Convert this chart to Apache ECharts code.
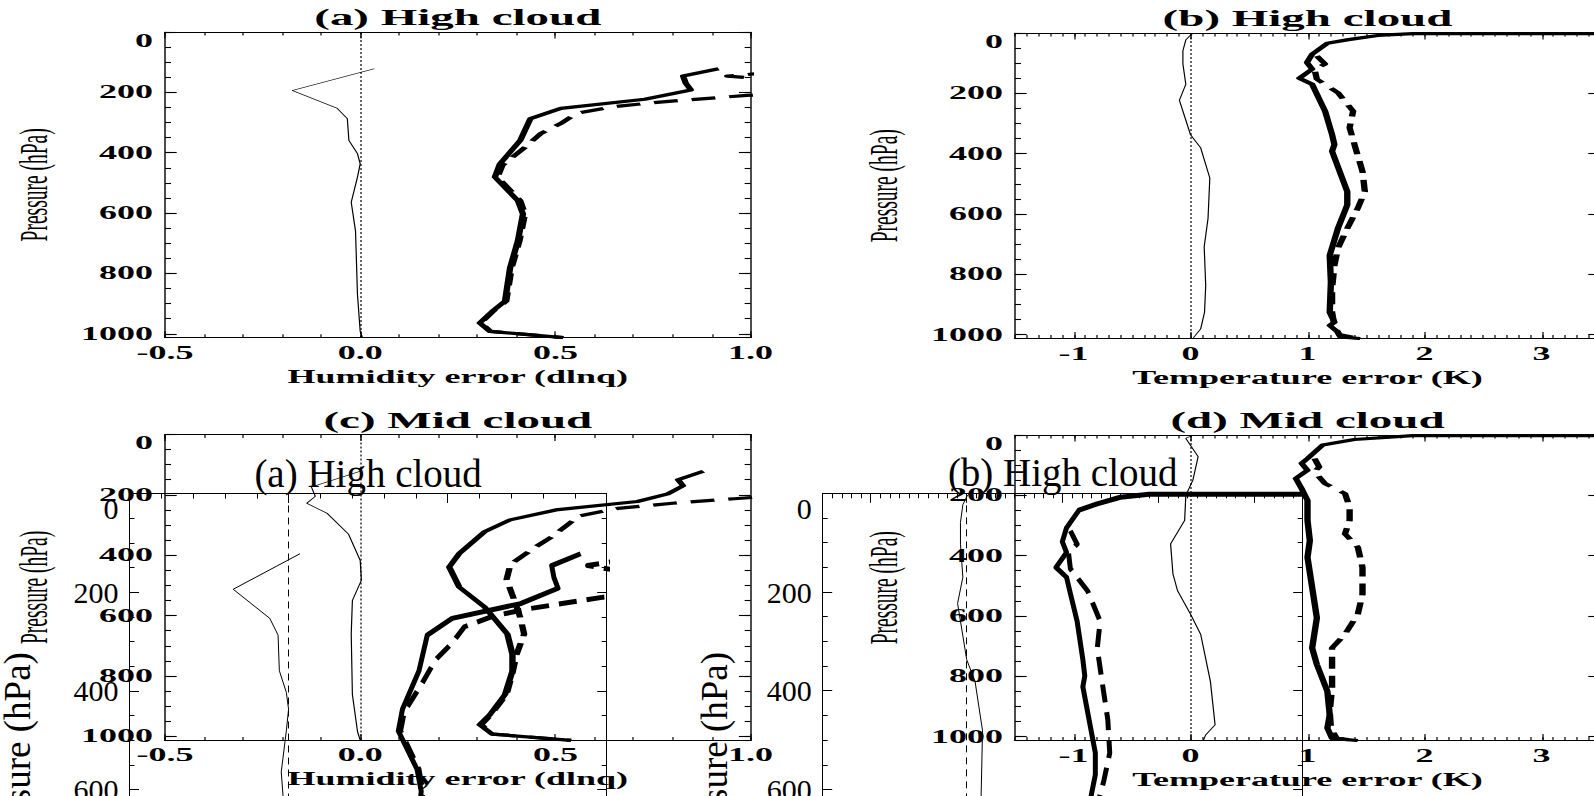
<!DOCTYPE html>
<html><head><meta charset="utf-8">
<script src="https://cdn.jsdelivr.net/npm/echarts@6/dist/echarts.min.js"></script>
<style>
html,body{margin:0;padding:0;background:#fff;overflow:hidden;width:1594px;height:796px}
#stretch{position:absolute;left:0;top:0;width:797px;height:796px;transform:scaleX(2);transform-origin:0 0}
#overlay{position:absolute;left:0;top:0;width:1594px;height:796px}
</style></head><body>
<div id="stretch"></div><div id="overlay"></div>
<script>
// ---------------- data ----------------
const pressureTicks = [0, 200, 400, 600, 800, 1000];
const humidityTicks = [-0.5, 0.0, 0.5, 1.0];
const temperatureTicks = [-1, 0, 1, 2, 3];
const panelTitles = ['(a) High cloud', '(b) High cloud', '(c) Mid cloud', '(d) Mid cloud'];
const humidityName = 'Humidity error (dlnq)';
const temperatureName = 'Temperature error (K)';
const pressureName = 'Pressure (hPa)';

// pairs: [error, pressure hPa]
const highHumBias = [[0.036,122],[-0.174,194],[-0.059,253],[-0.033,287],[-0.029,359],[-0.007,403],[0.0,437],[-0.007,481],[-0.023,564],[-0.012,659],[-0.007,870],[0.0,992],[0.006,1013]];
const highHumRms = [[0.918,122],[0.827,146],[0.834,170],[0.847,192],[0.729,223],[0.514,253],[0.436,287],[0.41,359],[0.358,437],[0.345,481],[0.404,559],[0.417,603],[0.404,692],[0.384,781],[0.371,892],[0.338,926],[0.306,964],[0.332,992],[0.52,1013]];
const highHumDash = [[1.15,125],[0.94,146],[1.15,168],[1.25,195],[0.99,210],[0.76,233],[0.645,248],[0.553,270],[0.514,303],[0.462,337],[0.423,381],[0.364,442],[0.352,481],[0.41,559],[0.422,603],[0.408,692],[0.388,781],[0.374,892],[0.34,926],[0.309,964],[0.334,992],[0.52,1013]];

const highTempBias = [[0.02,2],[0.0,7],[-0.04,23],[-0.065,59],[-0.065,103],[-0.04,170],[-0.095,223],[-0.065,259],[0.0,337],[0.087,381],[0.165,481],[0.15,614],[0.117,709],[0.13,837],[0.12,926],[0.087,981],[0.02,1013]];
const highTempRms = [[6.0,2],[1.9,2],[1.6,8],[1.35,22],[1.17,34],[1.04,70],[0.996,98],[1.04,120],[0.93,150],[1.04,170],[1.08,203],[1.15,259],[1.21,337],[1.23,370],[1.21,392],[1.34,526],[1.34,570],[1.26,648],[1.19,737],[1.2,826],[1.19,926],[1.23,959],[1.19,970],[1.26,992],[1.28,1008],[1.45,1013]];
const highTempDash = [[1.08,76],[1.15,103],[1.06,120],[1.08,153],[1.26,198],[1.39,259],[1.36,314],[1.41,381],[1.47,459],[1.49,526],[1.43,581],[1.34,648],[1.26,714],[1.23,770],[1.21,848],[1.21,926],[1.23,970],[1.27,1000],[1.45,1013]];

const midHumBias = [[0.0,122],[-0.125,174],[-0.115,205],[-0.137,228],[-0.085,261],[-0.03,330],[0.0,417],[0.003,483],[-0.02,550],[-0.023,661],[-0.02,861],[-0.007,983],[0.0,1013]];
const midHumRms = [[0.879,122],[0.814,150],[0.827,170],[0.788,197],[0.71,222],[0.501,250],[0.384,283],[0.319,322],[0.254,394],[0.228,439],[0.254,506],[0.319,572],[0.377,661],[0.39,728],[0.39,783],[0.371,861],[0.332,928],[0.306,961],[0.338,992],[0.54,1013]];
const midHumDash = [[1.1,200],[0.958,213],[0.8,228],[0.66,245],[0.56,270],[0.53,300],[0.49,340],[0.45,372],[0.385,430],[0.375,480],[0.395,550],[0.41,606],[0.42,661],[0.40,730],[0.39,790],[0.375,861],[0.335,928],[0.31,961],[0.34,992],[0.54,1013]];

const midTempBias = [[0.02,1],[-0.04,11],[0.065,72],[0.02,150],[-0.04,200],[-0.05,283],[-0.17,361],[-0.15,461],[-0.11,517],[0.0,594],[0.087,661],[0.17,817],[0.21,961],[0.13,994],[0.11,1013]];
const midTempRms = [[6.0,2],[1.9,2],[1.4,15],[1.13,33],[1.0,78],[0.95,94],[1.0,117],[0.9,144],[0.95,178],[1.0,217],[1.0,283],[1.02,350],[1.0,406],[1.04,506],[1.08,606],[1.04,706],[1.08,761],[1.17,850],[1.19,928],[1.17,972],[1.21,1006],[1.43,1013]];
const midTempDash = [[1.06,78],[1.1,106],[1.06,122],[1.15,161],[1.32,194],[1.36,239],[1.36,283],[1.32,328],[1.43,372],[1.47,439],[1.47,528],[1.43,594],[1.32,661],[1.21,706],[1.21,772],[1.21,839],[1.19,917],[1.2,972],[1.25,1006],[1.43,1013]];

// ---------------- builders ----------------
const FONT = 'Liberation Serif';
const P_MAX = 1013;
const HUM = {min:-0.5, max:1.0, interval:0.5, ticks:humidityTicks, fmt:v => Number(v).toFixed(1), name:humidityName};
const TEMP = {min:-1.5, max:3.5, interval:0.5, ticks:temperatureTicks, fmt:v => (Math.abs(v - Math.round(v)) < 1e-9 ? String(Math.round(v)) : ''), name:temperatureName};

function newOption(bg) {
  return {backgroundColor:bg, animation:false, grid:[], xAxis:[], yAxis:[], series:[]};
}

function addPanel(o, p, st) {
  const gi = o.grid.length;
  o.grid.push({left:p.left, top:p.top, width:p.width, height:p.height, containLabel:false, outerBoundsMode:'none'});
  const xLine = {show:true, onZero:false, lineStyle:{color:'#000', width:st.xLineW}};
  const yLine = {show:true, onZero:false, lineStyle:{color:'#000', width:st.yLineW}};
  const noLine = {show:false, onZero:false};
  const noLabel = {show:false};
  const ax = p.ax;
  const xBase = {type:'value', gridIndex:gi, min:ax.min, max:ax.max, splitLine:{show:false}, minorTick:{show:false}, silent:true, axisPointer:{show:false}};
  const yBase = {type:'value', gridIndex:gi, min:0, max:P_MAX, inverse:true, splitLine:{show:false}, minorTick:{show:false}, silent:true, axisPointer:{show:false}};
  const tick = (len, w, vals) => {
    const t = {show:true, inside:true, length:len, lineStyle:{color:'#000', width:w}};
    if (vals) t.customValues = vals;
    return t;
  };
  const xi = o.xAxis.length;
  o.xAxis.push(Object.assign({}, xBase, {
    position:'bottom', interval:ax.interval, axisLine:xLine, axisTick:tick(st.xMajorLen, st.xTickW, ax.ticks),
    axisLabel: st.xLabels ? {show:true, customValues:ax.ticks, formatter:ax.fmt, margin:st.xLabelMargin, color:'#000',
      fontFamily:FONT, fontWeight:st.labelWeight, fontSize:st.tickFont} : noLabel,
    name: st.xLabels ? ax.name : '', nameLocation:'middle', nameGap:st.xNameGap, nameMoveOverlap:false,
    nameTextStyle:{color:'#000', fontFamily:FONT, fontWeight:st.labelWeight, fontSize:st.xNameFont}
  }));
  o.xAxis.push(Object.assign({}, xBase, {position:'bottom', interval:0.1, axisLine:noLine, axisTick:tick(st.xMinorLen, st.xTickW), axisLabel:noLabel}));
  o.xAxis.push(Object.assign({}, xBase, {
    position:'top', interval:ax.interval, axisLine:xLine, axisTick:tick(st.xMajorLen, st.xTickW, ax.ticks), axisLabel:noLabel,
    name:p.title, nameLocation:'middle', nameGap:st.titleGap, nameMoveOverlap:false,
    nameTextStyle:{color:'#000', fontFamily:FONT, fontWeight:st.titleWeight, fontSize:st.titleFont}
  }));
  o.xAxis.push(Object.assign({}, xBase, {position:'top', interval:0.1, axisLine:noLine, axisTick:tick(st.xMinorLen, st.xTickW), axisLabel:noLabel}));

  const yi = o.yAxis.length;
  o.yAxis.push(Object.assign({}, yBase, {
    position:'left', interval:200, axisLine:yLine, axisTick:tick(st.yMajorLen, st.yTickW, pressureTicks),
    axisLabel:{show:true, customValues:pressureTicks, formatter:v => (v % 200 === 0 ? String(v) : ''), margin:st.yLabelMargin,
      color:'#000', fontFamily:FONT, fontWeight:st.labelWeight, fontSize:st.yTickFont, verticalAlignMinLabel:'top'},
    name:pressureName, nameLocation:'middle', nameGap:(p.yNameGap != null ? p.yNameGap : st.yNameGap), nameMoveOverlap:false,
    nameTextStyle:{color:'#000', fontFamily:FONT, fontWeight:'normal', fontSize:st.yNameFont, padding:st.yNamePad}
  }));
  o.yAxis.push(Object.assign({}, yBase, {position:'left', interval:50, axisLine:noLine, axisTick:tick(st.yMinorLen, st.yTickW), axisLabel:noLabel}));
  o.yAxis.push(Object.assign({}, yBase, {position:'right', interval:200, axisLine:yLine, axisTick:tick(st.yMajorLen, st.yTickW, pressureTicks), axisLabel:noLabel}));
  o.yAxis.push(Object.assign({}, yBase, {position:'right', interval:50, axisLine:noLine, axisTick:tick(st.yMinorLen, st.yTickW), axisLabel:noLabel}));

  const common = {type:'line', xAxisIndex:xi, yAxisIndex:yi, showSymbol:false, symbol:'none', clip:true, silent:true,
    animation:false, emphasis:{disabled:true}, smooth:false};
  o.series.push(Object.assign({}, common, {
    data:p.bias, z:3, lineStyle:{color:'#000', width:st.thinW},
    markLine:{silent:true, symbol:['none','none'], label:{show:false}, animation:false, emphasis:{disabled:true},
      lineStyle:{color:'#000', width:st.zeroW, type:st.zeroDash}, data:[{xAxis:0}]}
  }));
  o.series.push(Object.assign({}, common, {data:p.rms, z:4, lineStyle:{color:'#000', width:st.thickW, join:'round', cap:'butt'}}));
  o.series.push(Object.assign({}, common, {data:p.dash, z:4, lineStyle:{color:'#000', width:st.thickW, type:st.dash, join:'round', cap:'butt'}}));
}

// ---------- four-panel figure (drawn at half width, stretched x2 by CSS) ----------
const st1 = {
  xLineW:1.2, yLineW:0.7, xTickW:0.6, yTickW:1.1,
  xMajorLen:6.5, xMinorLen:3.5, yMajorLen:5.85, yMinorLen:3,
  thinW:0.6, thickW:3.2, dash:[12,7], zeroW:0.6, zeroDash:[2,2],
  xLabels:true, labelWeight:'bold', titleWeight:'bold',
  tickFont:18, yTickFont:18, xNameFont:18, titleFont:23.5, yNameFont:19.5, yNamePad:0,
  xLabelMargin:6, yLabelMargin:6, xNameGap:30, yNameGap:55.5, titleGap:2.5
};
const opt1 = newOption('#fff');
addPanel(opt1, {left:82.5, top:32, width:292.8, height:305.7, ax:HUM, title:panelTitles[0], bias:highHumBias, rms:highHumRms, dash:highHumDash}, st1);
addPanel(opt1, {left:507.5, top:33, width:292.5, height:305.5, ax:TEMP, title:panelTitles[1], bias:highTempBias, rms:highTempRms, dash:highTempDash}, st1);
addPanel(opt1, {left:82.5, top:434.4, width:292.8, height:306, ax:HUM, title:panelTitles[2], bias:midHumBias, rms:midHumRms, dash:midHumDash}, st1);
addPanel(opt1, {left:507.5, top:435, width:292.5, height:305.5, ax:TEMP, title:panelTitles[3], bias:midTempBias, rms:midTempRms, dash:midTempDash}, st1);

const chart1 = echarts.init(document.getElementById('stretch'), null, {renderer:'svg', width:797, height:796});
chart1.setOption(opt1);

// ---------- overlaid larger copy of panels (a) and (b) ----------
const st2 = {
  xLineW:1, yLineW:1, xTickW:1, yTickW:1,
  xMajorLen:9.5, xMinorLen:5, yMajorLen:9.5, yMinorLen:5,
  thinW:1, thickW:5, dash:[18,10], zeroW:1, zeroDash:[7,5],
  xLabels:false, labelWeight:'normal', titleWeight:'normal',
  tickFont:30, yTickFont:30, xNameFont:30, titleFont:39, yNameFont:37, yNamePad:[0,32,0,0],
  xLabelMargin:10, yLabelMargin:11, xNameGap:40, yNameGap:90, titleGap:1
};
const opt2 = newOption('transparent');
addPanel(opt2, {left:129.5, top:493.5, width:477.2, height:500, ax:HUM, title:panelTitles[0], bias:highHumBias, rms:highHumRms, dash:highHumDash, yNameGap:94}, st2);
addPanel(opt2, {left:822.7, top:493.3, width:480, height:500, ax:TEMP, title:panelTitles[1], bias:highTempBias, rms:highTempRms, dash:highTempDash}, st2);

const chart2 = echarts.init(document.getElementById('overlay'), null, {renderer:'svg', width:1594, height:796});
chart2.setOption(opt2);
</script>
</body></html>
